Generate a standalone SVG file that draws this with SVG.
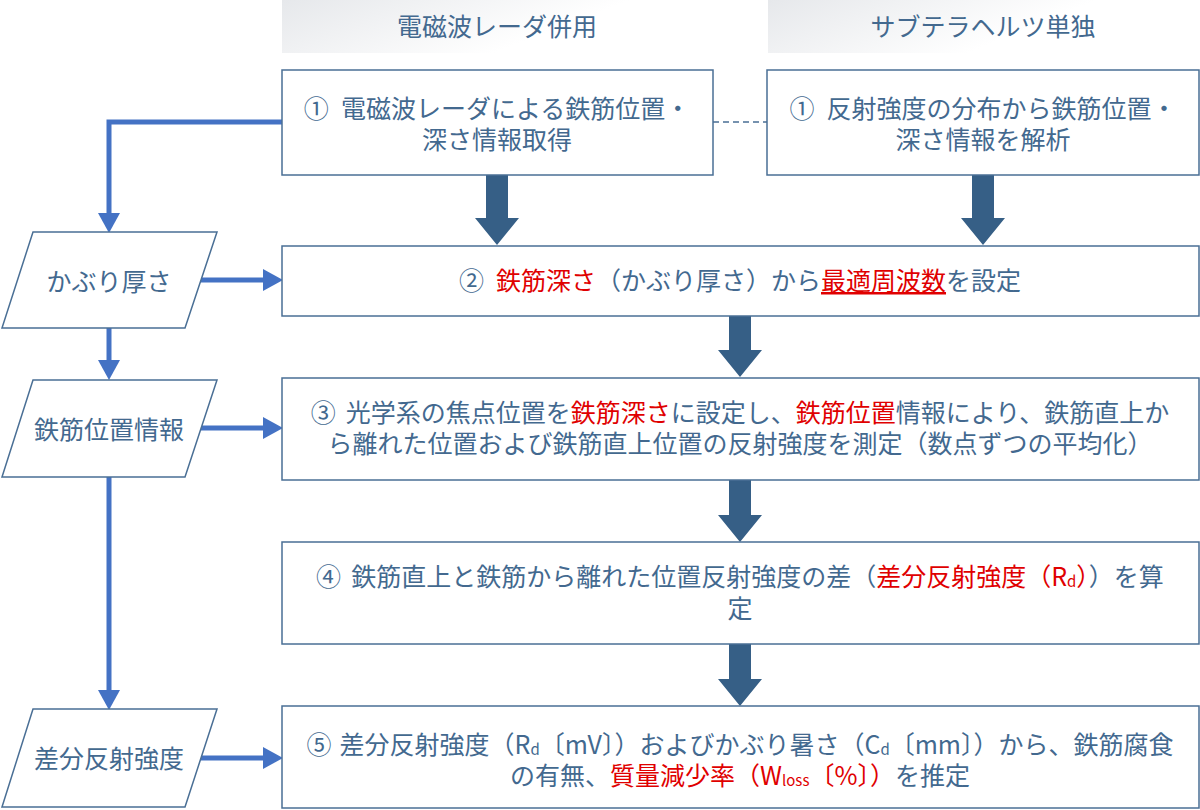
<svg xmlns="http://www.w3.org/2000/svg" width="1200" height="810" viewBox="0 0 1200 810">
<defs>
<linearGradient id="hdr" x1="0" y1="0" x2="1" y2="0.3">
<stop offset="0" stop-color="#E6E8EB"/>
<stop offset="0.7" stop-color="#FFFFFF"/>
</linearGradient>
<marker id="bh" markerUnits="userSpaceOnUse" markerWidth="20" markerHeight="24" refX="0" refY="11" orient="auto" overflow="visible">
<path d="M0,0 L20,11 L0,22 Z" fill="#4472C4"/>
</marker>
<style>
.t{font-family:"Noto Sans CJK JP","Noto Sans",sans-serif;font-size:25px;fill:#43698F;text-anchor:middle;dominant-baseline:central}
.r{fill:#E00000}
.sub{font-size:15px}
.box{fill:#FFFFFF;stroke:#4A6F95;stroke-width:1.5}
.big{fill:#365F86}
.con{fill:none;stroke:#4472C4;stroke-width:5;marker-end:url(#bh)}
</style>
</defs>
<rect width="1200" height="810" fill="#FFFFFF"/>

<g id="header-left">
<rect x="282" y="0" width="458" height="53" fill="url(#hdr)"/>
<text class="t" x="497" y="25">電磁波レーダ併用</text>
</g>
<g id="header-right">
<rect x="768" y="0" width="432" height="53" fill="url(#hdr)"/>
<text class="t" x="983" y="25">サブテラヘルツ単独</text>
</g>

<g id="connectors">
<line x1="713" y1="122" x2="767" y2="122" stroke="#4A6F95" stroke-width="1.5" stroke-dasharray="6 4"/>
<path class="con" d="M282,122 H109 V213"/>
<path class="con" d="M109,328 V360"/>
<path class="con" d="M109,477 V690"/>
<path class="con" d="M200,280 H263"/>
<path class="con" d="M200,428 H263"/>
<path class="con" d="M200,758 H263"/>
<polygon class="big" points="486,175 508,175 508,218 519,218 497,245 475,218 486,218"/>
<polygon class="big" points="972,175 994,175 994,218 1005,218 983,245 961,218 972,218"/>
<polygon class="big" points="729,316 751,316 751,350 762,350 740,377 718,350 729,350"/>
<polygon class="big" points="729,480 751,480 751,515 762,515 740,542 718,515 729,515"/>
<polygon class="big" points="729,644 751,644 751,679 762,679 740,706 718,679 729,679"/>
</g>

<g id="step1-radar">
<rect class="box" x="282" y="70" width="431" height="105"/>
<text class="t" x="497" y="107">①<tspan dx="12">電磁波レーダによる鉄筋位置・</tspan></text>
<text class="t" x="497" y="138">深さ情報取得</text>
</g>
<g id="step1-thz">
<rect class="box" x="767" y="70" width="432" height="105"/>
<text class="t" x="983" y="107">①<tspan dx="12">反射強度の分布から鉄筋位置・</tspan></text>
<text class="t" x="983" y="138">深さ情報を解析</text>
</g>
<g id="step2">
<rect class="box" x="282" y="246" width="917" height="70"/>
<text class="t" x="740" y="279">②<tspan dx="12" class="r">鉄筋深さ</tspan>（かぶり厚さ）から<tspan class="r" text-decoration="underline">最適周波数</tspan>を設定</text>
</g>
<g id="step3">
<rect class="box" x="282" y="378" width="917" height="102"/>
<text class="t" x="740" y="411">③<tspan dx="10">光学系の焦点位置を</tspan><tspan class="r">鉄筋深さ</tspan>に設定し、<tspan class="r">鉄筋位置</tspan>情報により、鉄筋直上か</text>
<text class="t" x="740" y="442">ら離れた位置および鉄筋直上位置の反射強度を測定（数点ずつの平均化）</text>
</g>
<g id="step4">
<rect class="box" x="282" y="542" width="917" height="102"/>
<text class="t" x="740" y="575">④<tspan dx="10">鉄筋直上と鉄筋から離れた位置反射強度の差（</tspan><tspan class="r">差分反射強度（R<tspan class="sub" dy="5">d</tspan><tspan dy="-5">）</tspan></tspan>）を算</text>
<text class="t" x="740" y="607">定</text>
</g>
<g id="step5">
<rect class="box" x="282" y="706" width="917" height="102"/>
<text class="t" x="740" y="743">⑤<tspan dx="8">差分反射強度（R</tspan><tspan class="sub" dy="5">d</tspan><tspan dy="-5">〔mV〕）およびかぶり暑さ（C</tspan><tspan class="sub" dy="5">d</tspan><tspan dy="-5">〔mm〕）から、鉄筋腐食</tspan></text>
<text class="t" x="740" y="774">の有無、<tspan class="r">質量減少率（W<tspan class="sub" dy="5">loss</tspan><tspan dy="-5">〔%〕）</tspan></tspan>を推定</text>
</g>

<g id="input-cover">
<polygon class="box" points="33,232 217,232 185,328 2,328"/>
<text class="t" x="109" y="280">かぶり厚さ</text>
</g>
<g id="input-position">
<polygon class="box" points="33,380 217,380 185,477 2,477"/>
<text class="t" x="109" y="428">鉄筋位置情報</text>
</g>
<g id="input-diff">
<polygon class="box" points="33,709 217,709 185,807 2,807"/>
<text class="t" x="109" y="757">差分反射強度</text>
</g>
</svg>
